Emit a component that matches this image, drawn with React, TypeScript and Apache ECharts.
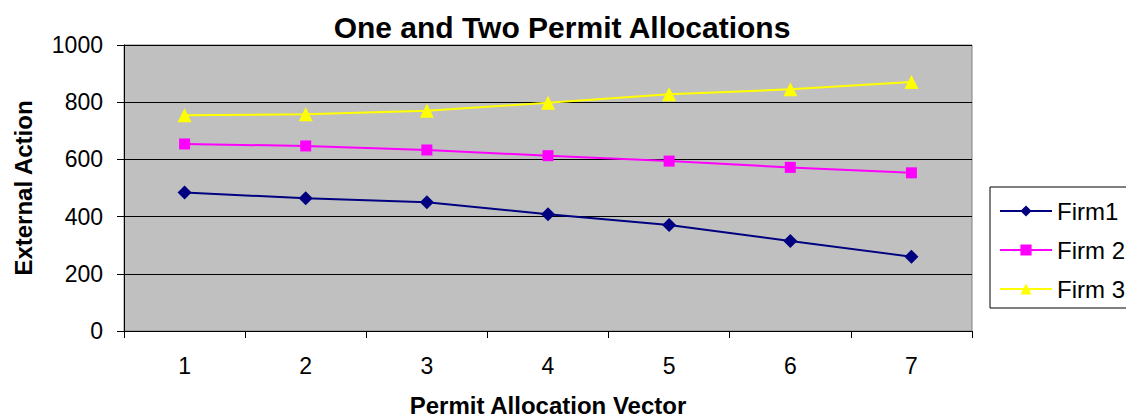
import React, { useEffect, useRef } from "react";
import * as echarts from "echarts";

const categories = ["1", "2", "3", "4", "5", "6", "7"];
const firm1 = [484, 464, 450, 408, 371, 315, 260];
const firm2 = [654, 647, 633, 613, 594, 572, 553];
const firm3 = [754, 758, 770, 798, 828, 845, 871];
const seriesNames = ["Firm1", "Firm 2", "Firm 3"];
const seriesColors = ["#000080", "#FF00FF", "#FFFF00"];

const FONT = "'Liberation Sans', Arial, sans-serif";

export default function App() {
  const ref = useRef<HTMLDivElement>(null);
  useEffect(() => {
    if (!ref.current) return;
    const chart = echarts.init(ref.current, undefined, { renderer: "svg" });
    chart.setOption({
      animation: false,
      backgroundColor: "#FFFFFF",
      textStyle: { fontFamily: FONT },
      title: {
        text: "One and Two Permit Allocations",
        left: 562,
        textAlign: "center",
        top: 12,
        padding: 0,
        textStyle: { fontFamily: FONT, fontSize: 30, fontWeight: "bold", color: "#000" },
      },
      grid: {
        left: 124,
        top: 45,
        width: 848,
        height: 286,
        outerBoundsMode: "none",
        containLabel: false,
        show: true,
        backgroundColor: "#C0C0C0",
        borderColor: "#808080",
        borderWidth: 1,
      },
      legend: {
        orient: "vertical",
        left: 990,
        top: 187,
        padding: [12, 40, 7, 9],
        itemWidth: 52,
        itemHeight: 14,
        itemGap: 15,
        borderColor: "#000",
        borderWidth: 1,
        backgroundColor: "#FFFFFF",
        textStyle: { fontFamily: FONT, fontSize: 24, color: "#000" },
        data: seriesNames,
      },
      xAxis: {
        type: "category",
        data: categories,
        boundaryGap: true,
        name: "Permit Allocation Vector",
        nameLocation: "middle",
        nameGap: 65,
        nameTextStyle: {
          fontFamily: FONT,
          fontSize: 24,
          lineHeight: 18,
          fontWeight: "bold",
          color: "#000",
        },
        axisLine: { show: true, lineStyle: { color: "#000", width: 1 } },
        axisTick: { show: true, alignWithLabel: false, length: 7, lineStyle: { color: "#000" } },
        axisLabel: { margin: 23, fontFamily: FONT, fontSize: 23, color: "#000" },
        splitLine: { show: false },
      },
      yAxis: {
        type: "value",
        min: 0,
        max: 1000,
        interval: 200,
        name: "External Action",
        nameLocation: "middle",
        nameGap: 89,
        nameTextStyle: { fontFamily: FONT, fontSize: 24, fontWeight: "bold", color: "#000" },
        axisLine: { show: true, lineStyle: { color: "#000", width: 1 } },
        axisTick: { show: true, length: 7, lineStyle: { color: "#000" } },
        axisLabel: {
          margin: 21,
          fontFamily: FONT,
          fontSize: 23,
          color: "#000",
          formatter: (v: number) => String(v),
        },
        splitLine: { show: true, lineStyle: { color: "#000", width: 1 } },
      },
      series: [
        {
          name: seriesNames[0],
          type: "line",
          data: firm1,
          symbol: "diamond",
          symbolSize: 14,
          itemStyle: { color: seriesColors[0] },
          lineStyle: { color: seriesColors[0], width: 2 },
        },
        {
          name: seriesNames[1],
          type: "line",
          data: firm2,
          symbol: "rect",
          symbolSize: 11,
          itemStyle: { color: seriesColors[1] },
          lineStyle: { color: seriesColors[1], width: 2 },
        },
        {
          name: seriesNames[2],
          type: "line",
          data: firm3,
          symbol: "triangle",
          symbolSize: 14,
          itemStyle: { color: seriesColors[2] },
          lineStyle: { color: seriesColors[2], width: 2 },
        },
      ],
    });
    return () => chart.dispose();
  }, []);
  return (
    <div
      ref={ref}
      style={{ position: "fixed", left: 0, top: 0, width: 1126, height: 419 }}
    />
  );
}
